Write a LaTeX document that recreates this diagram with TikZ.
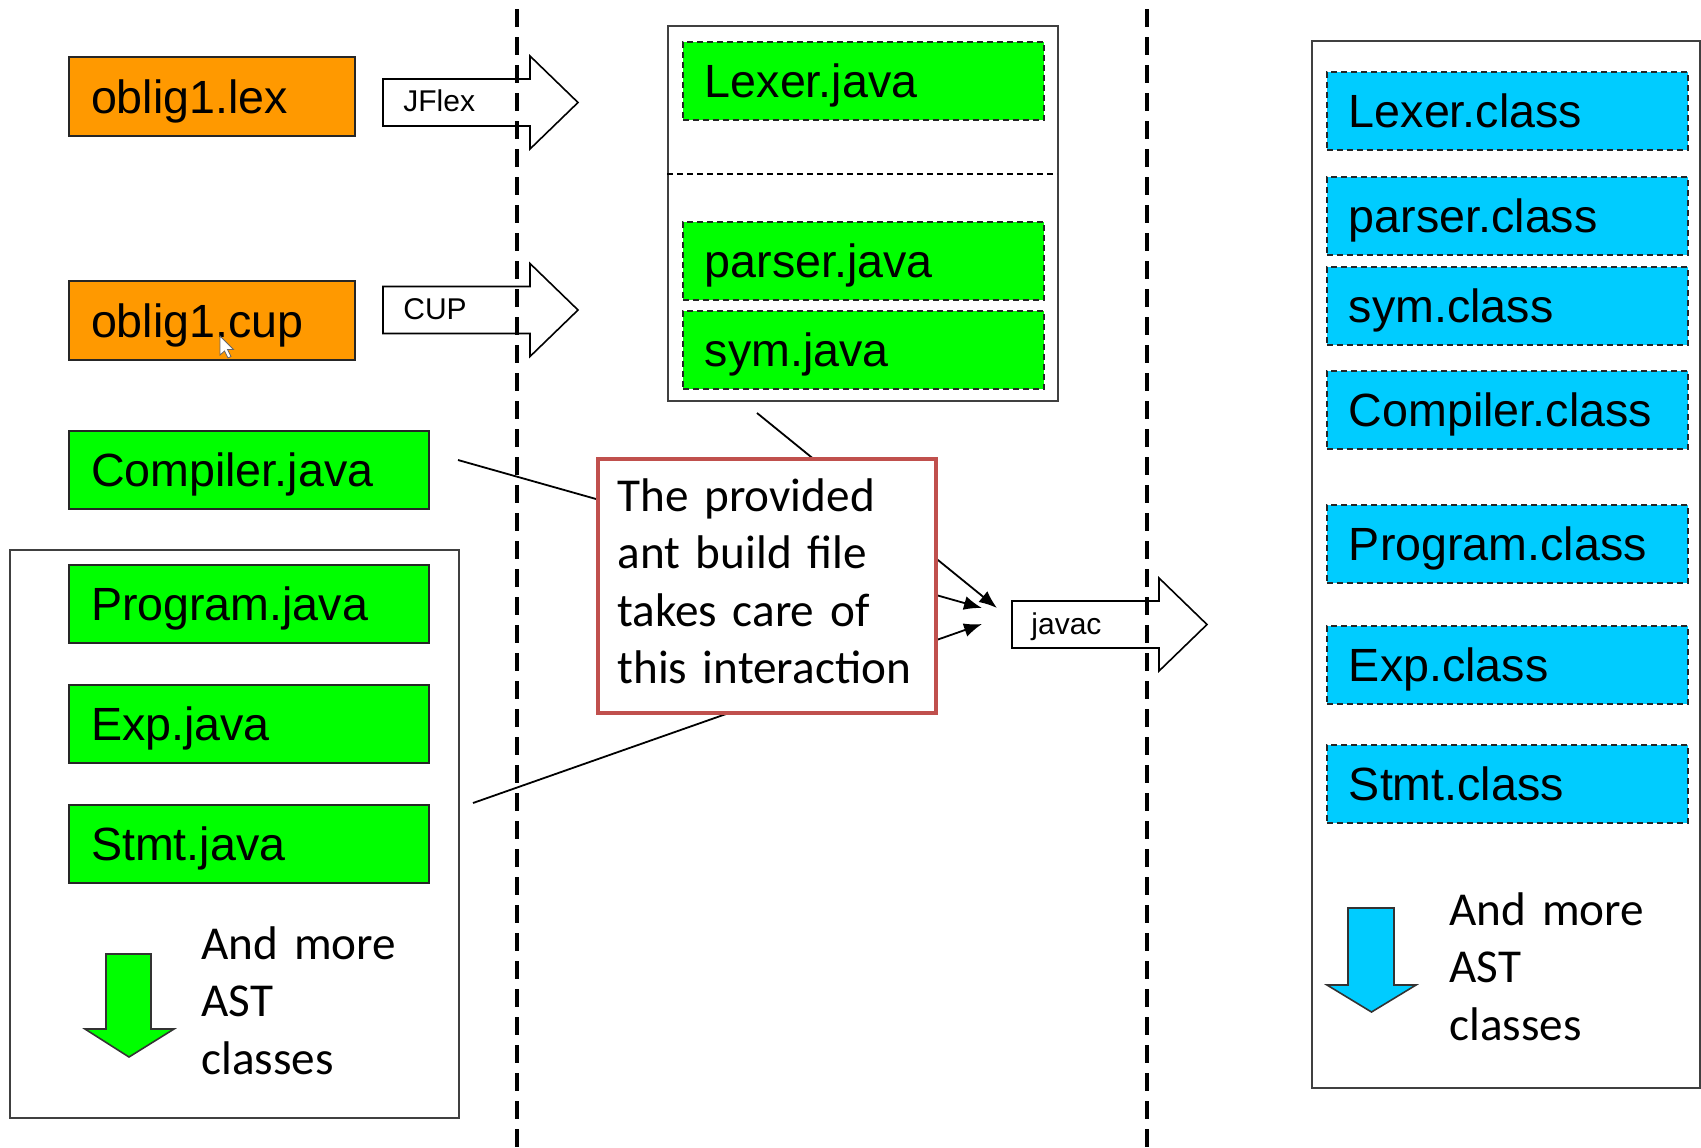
\documentclass[tikz,border=0pt]{standalone}
\usepackage{fontspec}
\setmainfont{Liberation Sans}
\newfontfamily\carlito{Carlito}
\usetikzlibrary{arrows.meta}
\definecolor{fileorange}{HTML}{FF9900}
\definecolor{filegreen}{HTML}{00FF00}
\definecolor{fileblue}{HTML}{00CCFF}
\definecolor{calloutred}{HTML}{C0504D}
\begin{document}
\begin{tikzpicture}[x=0.5pt,y=-0.5pt,
  lbl/.style={rectangle, anchor=north west, inner xsep=11pt, inner ysep=0pt,
    minimum height=39pt, align=left, font=\fontsize{23.3}{28}\selectfont,
    text height=16.7pt, text depth=0pt},
  srcbox/.style={lbl, draw=black!85, line width=1pt, text width=158pt},
  orbox/.style={lbl, draw=black!85, line width=1pt, fill=fileorange, text width=121pt, minimum height=39.5pt},
  genbox/.style={lbl, draw=black!85, line width=0.9pt, dash pattern=on 3pt off 2pt, text width=158.5pt},
  container/.style={draw=black!75, line width=1pt, anchor=north west, inner sep=0pt, fill=white},
  arrowlbl/.style={anchor=west, inner sep=0pt, font=\fontsize{15}{18}\selectfont, text height=10.7pt, text depth=0pt},
  morelbl/.style={anchor=base west, inner sep=0pt, text width=130pt, align=left, font=\carlito\fontsize{23.6}{28.75}\selectfont},
  conn/.style={line width=0.9pt, -{Latex[length=9pt,width=7pt]}},
  divider/.style={line width=1.7pt, dash pattern=on 9pt off 5pt},
  blockarrow/.pic={\draw[fill=white, line width=0.8pt] (0,-23.5) -- (147,-23.5) -- (147,-46.5) -- (195,0) -- (147,46.5) -- (147,23.5) -- (0,23.5) -- cycle;}
]
\useasboundingbox (0,0) rectangle (1701,1147);

% containers
\node[container, minimum width=224.5pt, minimum height=284pt] (astbox) at (9,549) {};
\node[container, minimum width=195pt, minimum height=187.5pt] (midbox) at (667,25) {};
\node[container, minimum width=194pt, minimum height=523.5pt] (classbox) at (1311,40) {};
\draw[line width=0.7pt, dash pattern=on 3pt off 2pt] (667,174) -- (1057,174);

% source files
\node[orbox] (lex) at (68,56) {oblig1.lex};
\node[orbox] (cup) at (68,280) {oblig1.cup};
\node[srcbox, fill=filegreen] (compiler) at (68,430) {Compiler.java};
\node[srcbox, fill=filegreen] (program) at (68,564) {Program.java};
\node[srcbox, fill=filegreen] (exp) at (68,684) {Exp.java};
\node[srcbox, fill=filegreen] (stmt) at (68,804) {Stmt.java};

% generated java
\node[genbox, fill=filegreen] (lexer) at (682,41) {Lexer.java};
\node[genbox, fill=filegreen] (parser) at (682,221) {parser.java};
\node[genbox, fill=filegreen] (sym) at (682,310) {sym.java};

% class files
\node[genbox, fill=fileblue] (lexerc) at (1326,71) {Lexer.class};
\node[genbox, fill=fileblue] (parserc) at (1326,176) {parser.class};
\node[genbox, fill=fileblue] (symc) at (1326,266) {sym.class};
\node[genbox, fill=fileblue] (compilerc) at (1326,370) {Compiler.class};
\node[genbox, fill=fileblue] (programc) at (1326,504) {Program.class};
\node[genbox, fill=fileblue] (expc) at (1326,625) {Exp.class};
\node[genbox, fill=fileblue] (stmtc) at (1326,744) {Stmt.class};

% block arrows
\pic at (383,102.5) {blockarrow};
\node[arrowlbl] (jflex) at (403,101) {JFlex};
\pic at (383,310) {blockarrow};
\node[arrowlbl] (cuptool) at (403,309) {CUP};
\pic at (1012,624.5) {blockarrow};
\node[arrowlbl] (javac) at (1031,624) {javac};

% connectors
\coordinate (cfrom) at (458,460);
\coordinate (mfrom) at (757,413);
\coordinate (sfrom) at (473,803);
\coordinate (to1) at (997,608);
\coordinate (to2) at (982,608);
\coordinate (to3) at (982,624);
\draw[conn] (mfrom) -- (to1);
\draw[conn] (cfrom) -- (to2);
\draw[conn] (sfrom) -- (to3);

% callout
\node[draw=calloutred, line width=2.2pt, fill=white, anchor=north west, minimum width=169pt, minimum height=127pt, inner sep=0pt] (callout) at (596,457) {};
\node[morelbl, text width=170pt] (callouttext) at (617,511) {The provided\\ant build file\\takes care of\\this interaction};

% and more
\draw[fill=filegreen, draw=black!80, line width=0.8pt] (106,954) -- (151,954) -- (151,1029) -- (174,1029) -- (129,1057) -- (85,1029) -- (106,1029) -- cycle;
\node[morelbl] (moreast) at (201,959) {And more\\AST\\classes};
\draw[fill=fileblue, draw=black!80, line width=0.8pt] (1348,908) -- (1394,908) -- (1394,985) -- (1416,985) -- (1371.5,1012) -- (1327,985) -- (1348,985) -- cycle;
\node[morelbl] (moreclass) at (1449,925) {And more\\AST\\classes};

% mouse cursor
\draw[fill=white, draw=black!60, line width=0.4pt] (220,336) -- ++(0,19) -- ++(4.5,-4) -- ++(3.5,7) -- ++(3,-1.5) -- ++(-3.5,-7) -- ++(6,0) -- cycle;

% dashed separators
\draw[divider] (517,9) -- (517,1147);
\draw[divider] (1147,9) -- (1147,1147);
\end{tikzpicture}
\end{document}
